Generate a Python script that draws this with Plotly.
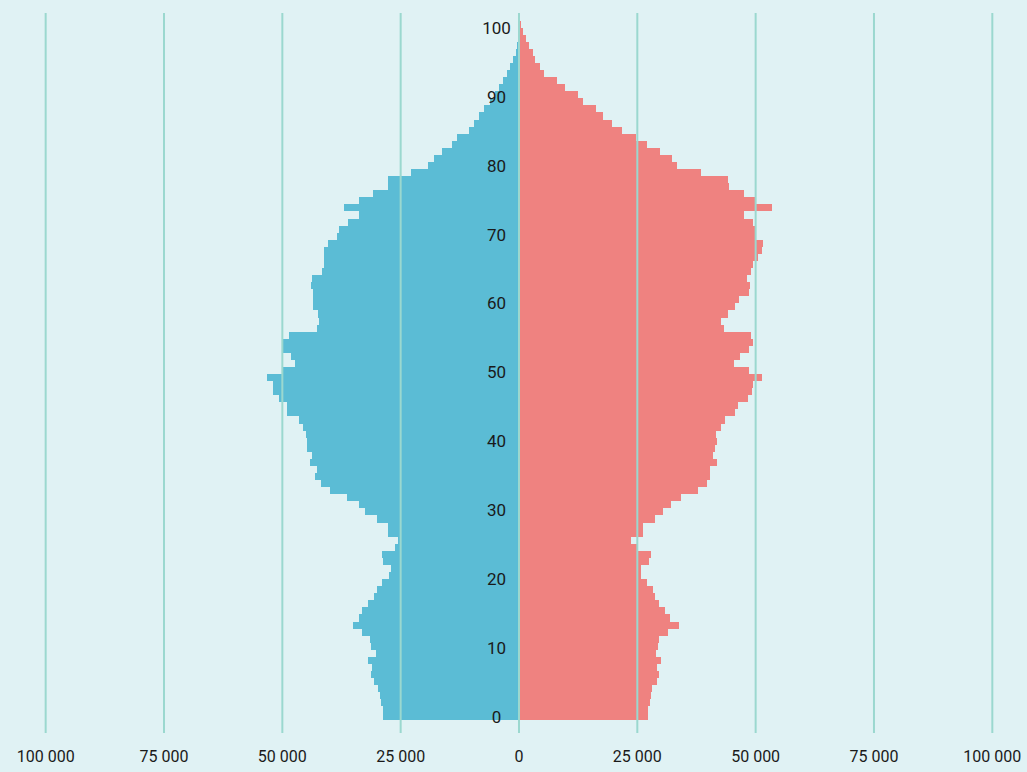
import plotly.graph_objects as go

# ---- data (population by single year of age, thousands) ----
ages = list(range(100))

male = [28.7, 28.7, 29.2, 29.3, 29.8, 30.6, 31.2, 31.1, 31.8, 30.3,
        31.2, 31.4, 33.2, 35.0, 33.8, 33.1, 31.8, 30.6, 30.1, 28.9,
        27.5, 27.0, 28.8, 28.9, 26.1, 25.5, 27.6, 27.6, 30.0, 32.5,
        33.9, 36.4, 40.0, 41.8, 43.2, 42.7, 44.2, 43.8, 44.8, 44.8,
        45.1, 45.7, 46.5, 49.0, 49.1, 50.8, 51.9, 52.0, 53.2, 50.0,
        47.3, 48.2, 49.8, 49.9, 48.5, 42.7, 42.2, 42.4, 43.5, 43.6,
        43.6, 44.0, 43.7, 41.7, 41.3, 41.2, 41.3, 40.3, 38.4, 38.0,
        36.1, 33.8, 36.9, 33.9, 30.9, 27.7, 27.6, 22.8, 19.3, 18.0,
        16.2, 14.2, 13.0, 10.6, 9.6, 8.5, 7.4, 6.1, 5.1, 4.2,
        3.4, 2.6, 1.8, 1.2, 0.65, 0.35, 0.15, 0.07, 0.03, 0.01]

female = [27.3, 27.3, 27.6, 27.8, 28.0, 29.1, 29.6, 29.2, 30.0, 28.9,
          29.4, 29.6, 31.4, 33.7, 31.9, 30.8, 29.6, 28.8, 28.4, 27.1,
          25.7, 25.7, 27.5, 27.8, 25.2, 23.7, 26.1, 26.3, 28.7, 30.5,
          32.1, 34.2, 37.9, 39.7, 40.4, 40.4, 41.9, 40.9, 41.4, 41.8,
          41.6, 42.6, 43.5, 45.6, 46.3, 48.3, 49.3, 49.5, 51.3, 48.6,
          45.4, 46.7, 48.5, 49.5, 49.0, 43.4, 42.6, 44.1, 45.6, 46.5,
          48.6, 48.8, 48.1, 49.0, 49.5, 50.5, 51.3, 51.6, 49.9, 49.9,
          49.5, 47.6, 53.4, 49.9, 47.5, 44.3, 44.2, 38.4, 33.3, 32.3,
          29.8, 27.0, 24.7, 21.7, 19.7, 17.8, 16.3, 13.6, 12.5, 9.7,
          8.0, 5.3, 4.4, 3.4, 2.9, 2.2, 1.4, 0.8, 0.4, 0.1]

x_ticks = [-100, -75, -50, -25, 0, 25, 50, 75, 100]
x_tick_labels = ["100 000", "75 000", "50 000", "25 000", "0",
                 "25 000", "50 000", "75 000", "100 000"]
age_labels = [0, 10, 20, 30, 40, 50, 60, 70, 80, 90, 100]

# ---- style ----
BG = "#e0f2f4"
BLUE = "#5bbcd5"
PINK = "#ef8280"
GRID = "#9bd8cf"
FONT = "Roboto, sans-serif"
TXT = "#1a1a1a"

fig = go.Figure()
fig.add_trace(go.Bar(
    y=ages, x=[-v for v in male], orientation="h",
    marker=dict(color=BLUE, line=dict(width=0)),
    showlegend=False, hoverinfo="skip"))
fig.add_trace(go.Bar(
    y=ages, x=female, orientation="h",
    marker=dict(color=PINK, line=dict(width=0)),
    showlegend=False, hoverinfo="skip"))

# age labels on their own (hidden) axis
fig.add_trace(go.Scatter(
    x=[-4.75] * len(age_labels), y=age_labels, yaxis="y2",
    mode="text", text=[str(a) for a in age_labels],
    textposition="middle center",
    textfont=dict(family=FONT, size=17, color=TXT),
    showlegend=False, hoverinfo="skip"))

for v in x_ticks:
    fig.add_shape(type="line", x0=v, x1=v, xref="x", yref="paper",
                  y0=0, y1=1, line=dict(color=GRID, width=2), layer="above")

fig.update_layout(
    width=1027, height=772,
    margin=dict(l=0, r=0, t=13, b=39, autoexpand=False),
    paper_bgcolor=BG, plot_bgcolor=BG,
    bargap=0, barmode="overlay",
    hovermode=False,
    xaxis=dict(range=[-109.65, 107.33], tickvals=x_ticks,
               ticktext=x_tick_labels, showgrid=False, zeroline=False,
               showline=False, ticks="", ticklabelstandoff=12,
               tickfont=dict(family=FONT, size=16, color=TXT),
               fixedrange=True),
    yaxis=dict(range=[-2.27, 99.57], showgrid=False, zeroline=False,
               showticklabels=False, showline=False, ticks="",
               fixedrange=True),
    yaxis2=dict(range=[-2.135, 102.42], overlaying="y", visible=False,
                fixedrange=True),
)

fig.write_html(
    "out.html",
    config={"displayModeBar": False, "staticPlot": True},
    post_script=("document.body.style.margin='0';"
                 "document.body.style.background='" + BG + "';"
                 "document.documentElement.style.overflow='hidden';"),
)
